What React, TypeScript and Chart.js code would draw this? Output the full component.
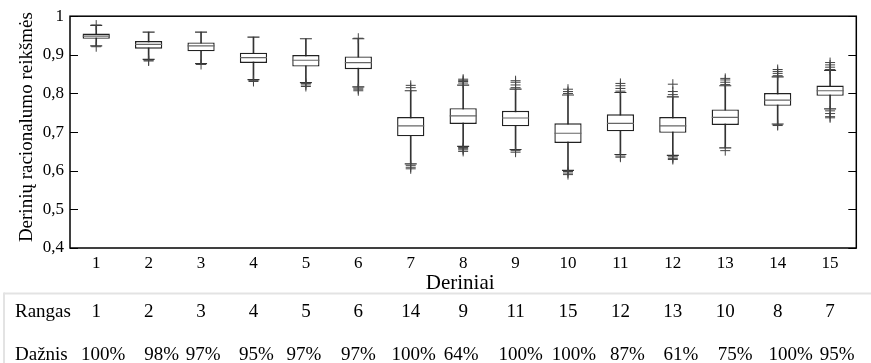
import { useEffect, useRef } from 'react';
import { Chart, registerables } from 'chart.js';

Chart.register(...registerables);

// Deriniai (combinations) on the x axis
const derinys = ['1', '2', '3', '4', '5', '6', '7', '8', '9', '10', '11', '12', '13', '14', '15'];

// Box statistics of the rationality values for each combination
const q1 = [0.9415, 0.916, 0.909, 0.879, 0.8695, 0.863, 0.689, 0.721, 0.715, 0.672, 0.702, 0.698, 0.7185, 0.768, 0.794];
const q3 = [0.955, 0.9356, 0.932, 0.9055, 0.8996, 0.896, 0.739, 0.762, 0.755, 0.7227, 0.746, 0.739, 0.7587, 0.801, 0.8205];
const mediana = [0.9485, 0.927, 0.923, 0.893, 0.886, 0.88, 0.716, 0.742, 0.7365, 0.697, 0.7227, 0.716, 0.738, 0.783, 0.807];
const usasApacia = [0.923, 0.888, 0.877, 0.836, 0.828, 0.817, 0.618, 0.663, 0.655, 0.601, 0.642, 0.6395, 0.659, 0.721, 0.76];
const usasVirsus = [0.976, 0.959, 0.959, 0.946, 0.9416, 0.9416, 0.807, 0.8215, 0.811, 0.796, 0.8025, 0.7914, 0.82, 0.843, 0.86];

// Outlying values (+) per combination
const isskirtys: number[][] = [
  [0.977, 0.921],
  [0.886, 0.884],
  [0.875],
  [0.834, 0.831],
  [0.826, 0.822, 0.818],
  [0.943, 0.814, 0.811, 0.807],
  [0.815, 0.821, 0.614, 0.609, 0.605],
  [0.827, 0.831, 0.834, 0.837, 0.66, 0.657, 0.654, 0.65],
  [0.815, 0.822, 0.829, 0.833, 0.652, 0.648],
  [0.8, 0.805, 0.811, 0.598, 0.594, 0.59],
  [0.806, 0.813, 0.82, 0.826, 0.638, 0.635],
  [0.797, 0.805, 0.824, 0.636, 0.632, 0.629],
  [0.823, 0.829, 0.835, 0.839, 0.652],
  [0.846, 0.852, 0.857, 0.862, 0.719, 0.717],
  [0.862, 0.868, 0.874, 0.88, 0.755, 0.748, 0.74, 0.737],
];

// Table under the chart
const rangas = ['1', '2', '3', '4', '5', '6', '14', '9', '11', '15', '12', '13', '10', '8', '7'];
const daznis = ['100%', '98%', '97%', '95%', '97%', '97%', '100%', '64%', '100%', '100%', '87%', '61%', '75%', '100%', '95%'];

const yMin = 0.4;
const yMax = 1;
const yStep = 0.1;

const yTitle = 'Derinių racionalumo reikšmės';
const xTitle = 'Deriniai';

// layout tweaks
const SERIF = '"Liberation Serif", "Times New Roman", serif';
const DAZNIS_NUDGE = [7, 13, 2, 3, -2, 0, 3, -2, 5, 6, 7, 8, 10, 13, 7];
const W = 871;
const H = 363;

const fmt = (v: number) => String(parseFloat(v.toFixed(2))).replace('.', ',');

const framePlugin = {
  id: 'frameAndTable',
  afterDraw(chart: any) {
    const { ctx, chartArea: a, scales } = chart;
    const xs = scales.x;
    const ys = scales.y;
    ctx.save();

    // frame
    ctx.strokeStyle = '#000';
    ctx.lineWidth = 1.5;
    ctx.strokeRect(a.left, a.top, a.right - a.left, a.bottom - a.top);

    // inward tick marks on both vertical sides
    ctx.lineWidth = 1;
    ys.ticks.forEach((t: any) => {
      const py = Math.round(ys.getPixelForValue(t.value)) + 0.5;
      ctx.beginPath();
      ctx.moveTo(a.left, py);
      ctx.lineTo(a.left + 8, py);
      ctx.moveTo(a.right - 8, py);
      ctx.lineTo(a.right, py);
      ctx.stroke();
    });

    ctx.fillStyle = '#000';

    // y title
    ctx.save();
    ctx.font = `19px ${SERIF}`;
    ctx.textAlign = 'center';
    ctx.textBaseline = 'alphabetic';
    ctx.translate(32, (a.top + a.bottom) / 2 - 5);
    ctx.rotate(-Math.PI / 2);
    ctx.fillText(yTitle, 0, 0);
    ctx.restore();

    // x title
    ctx.font = `21px ${SERIF}`;
    ctx.textAlign = 'center';
    ctx.textBaseline = 'alphabetic';
    ctx.fillText(xTitle, (a.left + a.right) / 2 - 3, 289);

    // table separators
    ctx.fillStyle = '#e3e3e3';
    ctx.fillRect(4, 292.5, W - 4, 2);
    ctx.fillRect(3, 292.5, 2, H - 292.5);

    // table rows
    ctx.fillStyle = '#000';
    ctx.font = `19px ${SERIF}`;
    ctx.textAlign = 'left';
    ctx.fillText('Rangas', 15, 316.5);
    ctx.fillText('Dažnis', 15, 360);
    ctx.textAlign = 'center';
    derinys.forEach((_, i) => {
      const px = xs.getPixelForValue(i);
      ctx.fillText(rangas[i], px, 316.5);
      ctx.fillText(daznis[i], px + DAZNIS_NUDGE[i], 360);
    });

    ctx.restore();
  },
};

export default function App() {
  const ref = useRef<HTMLCanvasElement>(null);

  useEffect(() => {
    if (!ref.current) return;

    const outlierPoints: { x: string; y: number }[] = [];
    isskirtys.forEach((vals, i) => vals.forEach((v) => outlierPoints.push({ x: derinys[i], y: v })));

    const chart = new Chart(ref.current, {
      type: 'bar',
      data: {
        labels: derinys,
        datasets: [
          {
            type: 'bar',
            label: 'whisker',
            data: derinys.map((_, i) => [usasApacia[i], usasVirsus[i]]),
            backgroundColor: '#333',
            borderWidth: 0,
            barThickness: 1,
            grouped: false,
            order: 5,
          } as any,
          {
            type: 'bar',
            label: 'box',
            data: derinys.map((_, i) => [q1[i], q3[i]]),
            backgroundColor: '#fff',
            borderColor: '#222',
            borderWidth: 1.4,
            borderSkipped: false,
            barPercentage: 0.52,
            categoryPercentage: 1,
            grouped: false,
            order: 4,
          } as any,
          {
            type: 'line',
            label: 'median',
            data: mediana,
            showLine: false,
            pointStyle: 'line',
            pointRadius: 13.5,
            pointBorderColor: '#666',
            pointBorderWidth: 1.2,
            order: 3,
          } as any,
          {
            type: 'line',
            label: 'capLow',
            data: usasApacia,
            showLine: false,
            pointStyle: 'line',
            pointRadius: 6,
            pointBorderColor: '#333',
            pointBorderWidth: 1.2,
            order: 2,
          } as any,
          {
            type: 'line',
            label: 'capHigh',
            data: usasVirsus,
            showLine: false,
            pointStyle: 'line',
            pointRadius: 6,
            pointBorderColor: '#333',
            pointBorderWidth: 1.2,
            order: 2,
          } as any,
          {
            type: 'line',
            label: 'outliers',
            data: outlierPoints,
            showLine: false,
            pointStyle: 'cross',
            pointRadius: 5,
            pointBorderColor: '#444',
            pointBorderWidth: 1,
            order: 1,
          } as any,
        ],
      },
      options: {
        responsive: false,
        maintainAspectRatio: false,
        animation: false,
        events: [],
        layout: { padding: { left: 0, right: W - 866, top: 15, bottom: 0 } },
        plugins: {
          legend: { display: false },
          tooltip: { enabled: false },
        },
        scales: {
          x: {
            type: 'category',
            offset: true,
            grid: { display: false, drawTicks: false },
            border: { display: false },
            ticks: {
              color: '#000',
              font: { family: SERIF, size: 17 },
              padding: 5,
              maxRotation: 0,
              autoSkip: false,
            },
            afterFit: (s: any) => {
              s.height = H - 248;
            },
          },
          y: {
            min: yMin,
            max: yMax,
            grid: { display: false, drawTicks: false },
            border: { display: false },
            ticks: {
              stepSize: yStep,
              color: '#000',
              font: { family: SERIF, size: 17 },
              padding: 6,
              callback: (v: any) => fmt(Number(v)),
            },
            afterFit: (s: any) => {
              s.width = 70;
            },
          },
        },
      },
      plugins: [framePlugin],
    });

    return () => chart.destroy();
  }, []);

  return (
    <div style={{ position: 'fixed', left: 0, top: 0, width: W, height: H, background: '#fff' }}>
      <canvas ref={ref} width={W} height={H} />
    </div>
  );
}
